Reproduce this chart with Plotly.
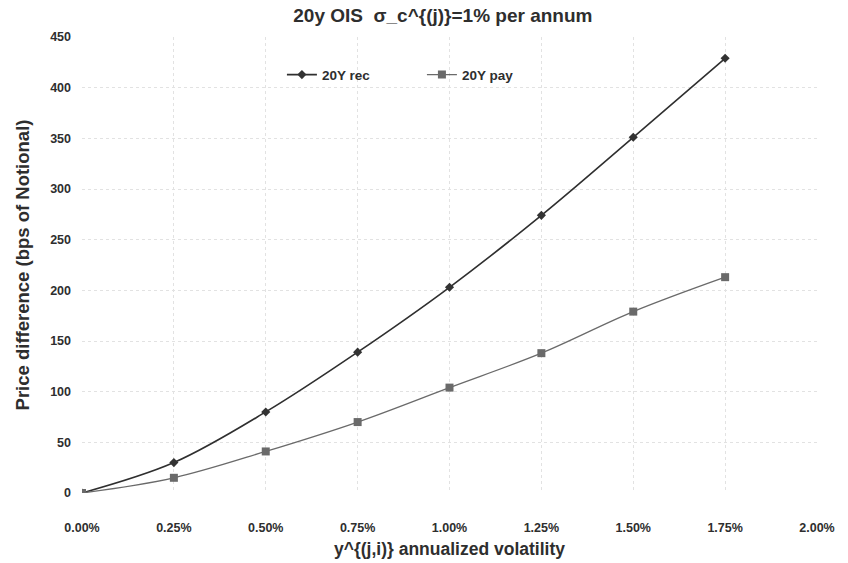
import plotly.graph_objects as go

# annualized volatility (in %) and price differences (bps of notional)
vol_pct = [0.00, 0.25, 0.50, 0.75, 1.00, 1.25, 1.50, 1.75]
rec_20y = [0, 30, 80, 139, 203, 274, 351, 429]
pay_20y = [0, 15, 41, 70, 104, 138, 179, 213]

x_ticks = [0.00, 0.25, 0.50, 0.75, 1.00, 1.25, 1.50, 1.75, 2.00]
x_tick_text = ["0.00%", "0.25%", "0.50%", "0.75%", "1.00%", "1.25%", "1.50%", "1.75%", "2.00%"]
y_ticks = [0, 50, 100, 150, 200, 250, 300, 350, 400, 450]

FONT = "Liberation Sans"
INK = "#2e2e2e"

fig = go.Figure()
fig.add_trace(go.Scatter(
    x=vol_pct, y=rec_20y, name="<b>20Y rec</b>", mode="lines+markers",
    line=dict(color="#2f2f2f", width=1.6, shape="spline"),
    marker=dict(symbol="diamond", size=7, color="#333333"),
))
fig.add_trace(go.Scatter(
    x=vol_pct, y=pay_20y, name="<b>20Y pay</b>", mode="lines+markers",
    line=dict(color="#6a6a6a", width=1.3, shape="spline"),
    marker=dict(symbol="square", size=8, color="#6a6a6a"),
))

fig.update_layout(
    width=848, height=563,
    paper_bgcolor="white", plot_bgcolor="white",
    margin=dict(l=82, r=31, t=37, b=70),
    font=dict(family=FONT, color=INK, size=12),
    title=dict(text="<b>20y OIS  σ_c^{(j)}=1% per annum</b>", xref="paper", x=0.491,
               xanchor="center", y=0.972, yanchor="middle",
               font=dict(size=19, color=INK)),
    legend=dict(orientation="h", x=0.272, y=0.917, xanchor="left", yanchor="middle",
                bgcolor="rgba(0,0,0,0)", font=dict(size=13.5, color=INK),
                itemwidth=30, entrywidth=95),
    showlegend=True,
)
fig.update_xaxes(
    range=[0, 2.0], tickvals=x_ticks, ticktext=[f"<b>{t}</b>" for t in x_tick_text],
    showgrid=True, gridcolor="#e2e2e2", griddash="dot", gridwidth=1,
    zeroline=False, showline=False, ticks="", ticklabelstandoff=25,
    tickfont=dict(size=12.5, color=INK), automargin=False,
    title=dict(text="<b>y^{(j,i)} annualized volatility</b>", font=dict(size=17.5, color=INK),
               standoff=9),
)
fig.update_yaxes(
    range=[0, 450], tickvals=y_ticks, ticktext=[f"<b>{t}</b>" for t in y_ticks],
    showgrid=True, gridcolor="#e2e2e2", griddash="dot", gridwidth=1,
    zeroline=False, showline=False, ticks="", ticklabelstandoff=10,
    tickfont=dict(size=12.5, color=INK), automargin=False,
    title=dict(text="<b>Price difference (bps of Notional)</b>", font=dict(size=18.5, color=INK),
               standoff=15),
)

fig.write_html("out.html")
